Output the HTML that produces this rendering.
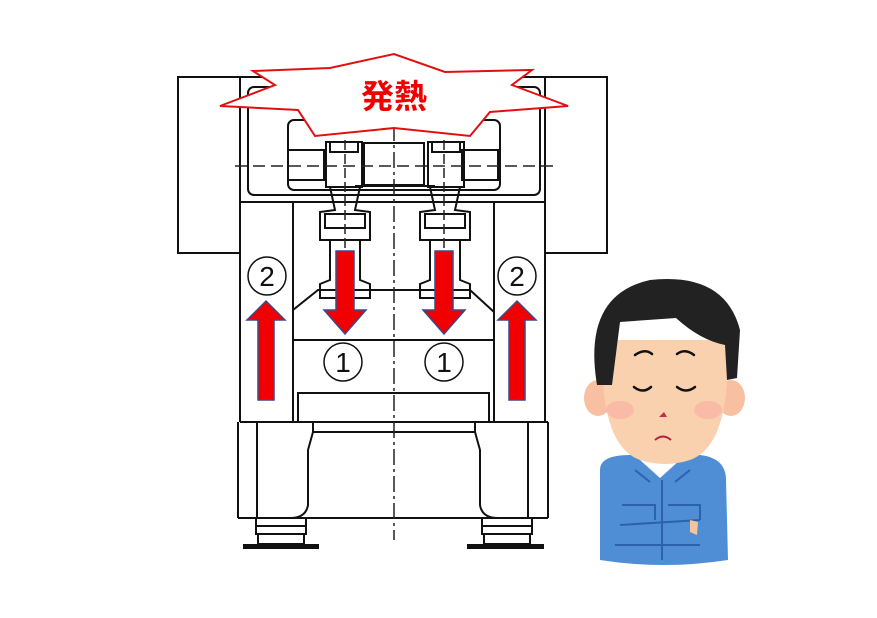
<!DOCTYPE html>
<html><head><meta charset="utf-8"><style>
html,body{margin:0;padding:0;background:#fff;}
svg{display:block;}
text{font-family:"Liberation Sans","Noto Sans CJK JP",sans-serif;}
</style></head><body>
<svg width="877" height="618" viewBox="0 0 877 618" xmlns="http://www.w3.org/2000/svg">
<rect width="877" height="618" fill="#fff"/>
<g fill="none" stroke="#111" stroke-width="2">
  <rect x="178" y="77" width="62" height="176"/>
  <rect x="545" y="77" width="62" height="176"/>
  <line x1="240" y1="77" x2="240" y2="422"/>
  <line x1="545" y1="77" x2="545" y2="422"/>
  <line x1="240" y1="77" x2="545" y2="77"/>
  <rect x="248" y="87" width="292" height="108" rx="6"/>
  <line x1="240" y1="202" x2="545" y2="202"/>
  <line x1="240" y1="422" x2="548" y2="422"/>
  <rect x="288" y="120" width="212" height="70" rx="6"/>
  <rect x="288" y="150" width="36" height="30"/>
  <rect x="462" y="150" width="36" height="30"/>
  <rect x="326" y="142" width="36" height="45"/>
  <rect x="428" y="142" width="36" height="45"/>
  <rect x="330" y="142" width="28" height="10"/>
  <rect x="432" y="142" width="28" height="10"/>
  <rect x="364" y="143" width="60" height="42"/>
  <line x1="355" y1="186" x2="435" y2="186"/>
  <path d="M330 187 L335 210 L320 212 L320 240 L370 240 L370 212 L355 210 L360 187"/>
  <path d="M430 187 L435 210 L420 212 L420 240 L470 240 L470 212 L455 210 L460 187"/>
  <rect x="325" y="214" width="40" height="14"/>
  <rect x="425" y="214" width="40" height="14"/>
  <path d="M330 240 L330 280 L320 284 L320 298 L370 298 L370 284 L360 280 L360 240"/>
  <path d="M430 240 L430 280 L420 284 L420 298 L470 298 L470 284 L460 280 L460 240"/>
  <line x1="293" y1="202" x2="293" y2="422"/>
  <line x1="494" y1="202" x2="494" y2="422"/>
  <path d="M293 340 L293 310 L318 290 L470 290 L494 312"/>
  <line x1="293" y1="340" x2="494" y2="340"/>
  <path d="M298 422 L298 393 L489 393 L489 422"/>
  <line x1="238" y1="422" x2="238" y2="518"/>
  <line x1="548" y1="422" x2="548" y2="518"/>
  <line x1="257" y1="422" x2="257" y2="518"/>
  <line x1="528" y1="422" x2="528" y2="518"/>
  <line x1="238" y1="518" x2="548" y2="518"/>
  <line x1="313" y1="432" x2="475" y2="432"/>
  <path d="M313 422 L313 432 L308 450 L308 505 Q306 518 290 518"/>
  <path d="M475 422 L475 432 L480 450 L480 505 Q482 518 498 518"/>
  <rect x="256" y="518" width="50" height="8"/>
  <rect x="256" y="526" width="50" height="8"/>
  <rect x="258" y="534" width="46" height="10"/>
  <rect x="482" y="518" width="50" height="8"/>
  <rect x="482" y="526" width="50" height="8"/>
  <rect x="484" y="534" width="46" height="10"/>
  <rect x="244" y="545" width="74" height="3" fill="#111"/>
  <rect x="468" y="545" width="75" height="3" fill="#111"/>
</g>
<g stroke="#222" stroke-width="1.5" stroke-dasharray="12,6" fill="none">
  <line x1="235" y1="166" x2="555" y2="166"/>
  <line x1="394" y1="125" x2="394" y2="540" stroke-dasharray="16,4,3,4"/>
  <line x1="345" y1="140" x2="345" y2="250" stroke-dasharray="10,4"/>
  <line x1="444" y1="140" x2="444" y2="250" stroke-dasharray="10,4"/>
</g>
<polygon points="253,71 330,68 394,54 445,72 532,70 512,85 568,106 490,112 470,136 394,128 315,136 298,110 220,106 275,85" fill="#fff" stroke="#e01010" stroke-width="2"/>
<text x="394" y="108" font-size="33" font-weight="bold" fill="#f00000" text-anchor="middle">発熱</text>
<g fill="#f00000" stroke="#3a4a8a" stroke-width="1.5">
  <polygon points="336,251 354,251 354,310 366,310 345,334 324,310 336,310"/>
  <polygon points="435,251 453,251 453,310 465,310 444,334 423,310 435,310"/>
  <polygon points="266,301 285,320 274,320 274,400 258,400 258,320 247,320"/>
  <polygon points="517,301 536,320 525,320 525,400 509,400 509,320 498,320"/>
</g>
<g fill="#fff" stroke="#111" stroke-width="1.5">
  <circle cx="267" cy="276" r="19"/>
  <circle cx="517" cy="276" r="19"/>
  <circle cx="343" cy="362" r="19"/>
  <circle cx="444" cy="362" r="19"/>
</g>
<g font-size="28" fill="#111" text-anchor="middle">
  <text x="267" y="286">2</text>
  <text x="517" y="286">2</text>
  <text x="343" y="372">1</text>
  <text x="444" y="372">1</text>
</g>
<g>
  <path d="M600 470 Q600 455 630 455 L700 455 Q726 458 726 480 L728 560 Q663 570 600 560 Z" fill="#4f8ed4"/>
  <path d="M640 460 L660 478 L680 460 Z" fill="#fff"/>
  <g stroke="#2d62a8" stroke-width="2" fill="none">
    <path d="M635 470 L650 482 M690 470 L675 482"/>
    <line x1="662" y1="480" x2="662" y2="560"/>
    <path d="M622 505 L655 505 L655 520 M668 505 L700 505 L700 520"/>
    <path d="M620 525 L700 520 M615 545 L700 545"/>
  </g>
  <path d="M690 520 L698 522 L697 535 L690 532 Z" fill="#f6c49c"/>
  <ellipse cx="598" cy="398" rx="14" ry="18" fill="#f8c0a0"/>
  <ellipse cx="731" cy="398" rx="14" ry="18" fill="#f8c0a0"/>
  <path d="M603 340 Q598 445 640 460 Q665 468 690 460 Q732 445 727 340 Z" fill="#fad1ae"/>
  <path d="M597 385 Q582 295 650 280 Q725 272 740 330 L737 378 L727 380 L725 345 Q700 340 676 318 L620 322 L612 385 Z" fill="#222"/>
  <ellipse cx="620" cy="410" rx="14" ry="9" fill="#f7a6a0" opacity="0.5"/>
  <ellipse cx="708" cy="410" rx="14" ry="9" fill="#f7a6a0" opacity="0.5"/>
  <g stroke="#111" stroke-width="2.5" fill="none" stroke-linecap="round">
    <path d="M635 355 Q645 348 652 354"/>
    <path d="M677 354 Q685 348 694 355"/>
    <path d="M634 387 Q643 394 651 387"/>
    <path d="M677 387 Q686 394 695 387"/>
  </g>
  <path d="M659 417 L664 412 L667 417 Z" fill="#c0304a"/>
  <path d="M655 440 Q663 433 671 440" stroke="#b0203a" stroke-width="2" fill="none"/>
</g>
</svg>
</body></html>
